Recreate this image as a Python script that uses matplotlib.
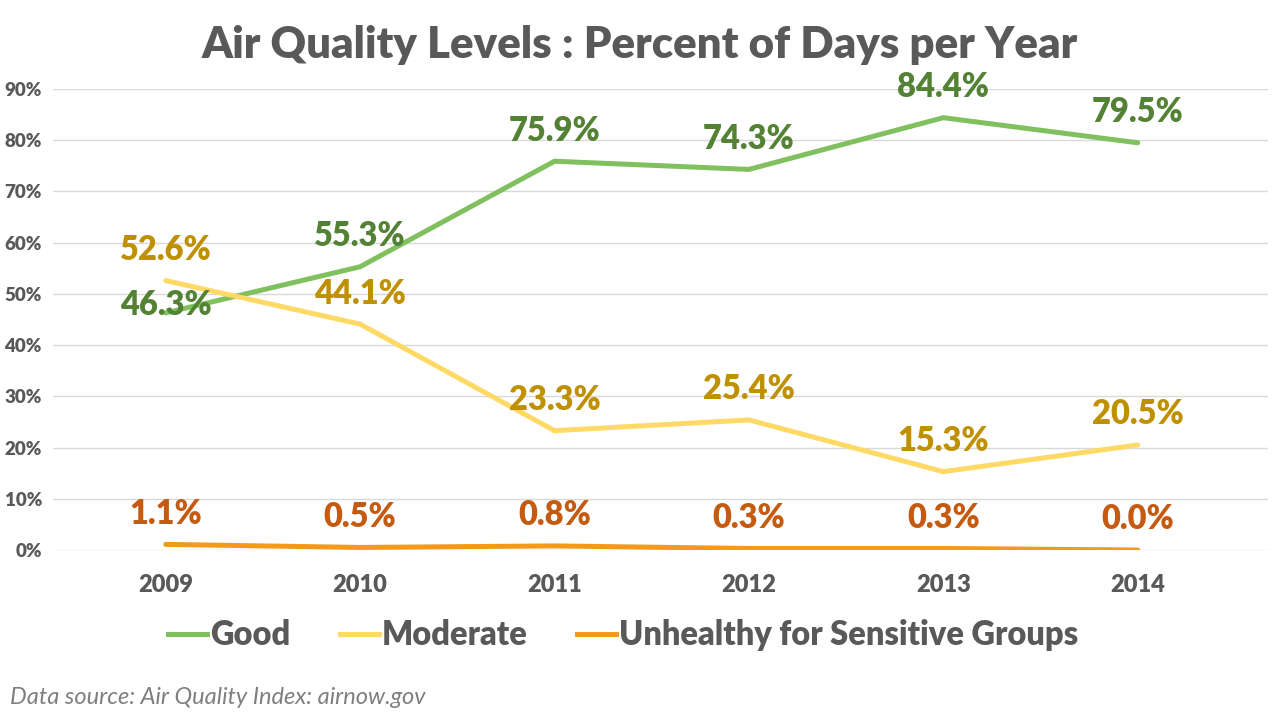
import matplotlib
matplotlib.use("Agg")
import matplotlib.pyplot as plt
from matplotlib.lines import Line2D

years = ["2009", "2010", "2011", "2012", "2013", "2014"]
good = [46.3, 55.3, 75.9, 74.3, 84.4, 79.5]
moderate = [52.6, 44.1, 23.3, 25.4, 15.3, 20.5]
unhealthy = [1.1, 0.5, 0.8, 0.3, 0.3, 0.0]
series_names = ["Good", "Moderate", "Unhealthy for Sensitive Groups"]
y_ticks = [0, 10, 20, 30, 40, 50, 60, 70, 80, 90]

plt.rcParams['font.family'] = ['Lato', 'DejaVu Sans']
GREY = "#595959"

fig = plt.figure(figsize=(12.8, 7.2), dpi=100)
ax = fig.add_axes([0.0414, 0.2361, 0.9492, 0.6403])

line_cols = ["#80C05E", "#FFD966", "#F39A1B"]
label_cols = ["#548235", "#BF9000", "#C55A11"]
x = list(range(len(years)))

for vals, lc, tc in zip([good, moderate, unhealthy], line_cols, label_cols):
    ax.plot(x, vals, color=lc, lw=3.6, solid_capstyle="round", solid_joinstyle="round")
    for i, v in enumerate(vals):
        off = 22
        if vals is good and i == 0:
            off = 6
        ax.annotate(f"{v:.1f}%", (i, v), xytext=(0, off), textcoords="offset points",
                    ha="center", va="center", fontsize=23.5, fontweight="heavy", color=tc)

ax.set_xlim(-0.58, 5.67)
ax.set_ylim(0, 90)
ax.set_yticks(y_ticks)
ax.set_yticklabels([f"{t}%" for t in y_ticks])
ax.set_xticks(x)
ax.set_xticklabels(years)
ax.tick_params(axis="y", length=0, pad=8, labelsize=13.5, labelcolor=GREY)
ax.tick_params(axis="x", length=0, pad=17, labelsize=17, labelcolor=GREY)
for lab in ax.get_xticklabels() + ax.get_yticklabels():
    lab.set_fontweight("heavy")
ax.yaxis.grid(True, color="#D9D9D9", lw=1)
ax.set_axisbelow(True)
for s in ax.spines.values():
    s.set_visible(False)

fig.text(0.5, 0.937, "Air Quality Levels : Percent of Days per Year", ha="center", va="center",
         fontsize=31.5, fontweight="heavy", color=GREY)

handles = [Line2D([0], [0], color=c, lw=3.6) for c in line_cols]
leg = fig.legend(handles, series_names, loc="center", bbox_to_anchor=(0.487, 0.118), ncol=3,
                 frameon=False, handlelength=1.2, handletextpad=0.1, columnspacing=1.5,
                 prop={"size": 23.5, "weight": "heavy"})
for t in leg.get_texts():
    t.set_color(GREY)

fig.text(0.008, 0.031, "Data source: Air Quality Index: airnow.gov", ha="left", va="center",
         fontsize=17, style="italic", color="#7F7F7F")

fig.savefig("out.png", dpi=100)
